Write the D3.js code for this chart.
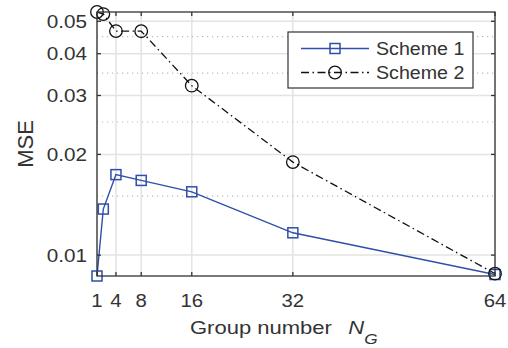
<!DOCTYPE html>
<html><head><meta charset="utf-8">
<script src="https://cdn.jsdelivr.net/npm/d3@7"></script>
<style>body{margin:0;background:#fff}svg{display:block}</style>
</head><body>
<svg id="c" width="508" height="348"></svg>
<script>
const groups = [1, 2, 4, 8, 16, 32, 64];
const scheme1 = [0.00866, 0.01373, 0.0174, 0.01672, 0.01546, 0.01166, 0.00875];
const scheme2 = [0.0533, 0.05254, 0.04674, 0.0467, 0.0321, 0.01897, 0.0088];
const xTicks = [1, 4, 8, 16, 32, 64];
const yTicks = [0.01, 0.02, 0.03, 0.04, 0.05];
const yTickLabels = ["0.01", "0.02", "0.03", "0.04", "0.05"];
const yMinor = [0.015, 0.025, 0.035, 0.045];
const seriesNames = ["Scheme 1", "Scheme 2"];

const L = 97, R = 495, T = 12, B = 276;
const svg = d3.select("#c");
const x = d3.scaleLinear().domain([1, 64]).range([L, R]);
const y = d3.scaleLog().domain([0.00866, 0.0533]).range([B, T]);
const txt = "#333";
const blue = "#2f4fa8";
const font = "Liberation Sans, Arial, sans-serif";

function label(g, px, py, s, size, anchor, sx) {
  return g.append("text").attr("transform", `translate(${px},${py}) scale(${sx},1)`)
    .attr("text-anchor", anchor).attr("font-family", font).attr("font-size", size)
    .attr("fill", txt).text(s);
}

// grid
const grid = svg.append("g");
grid.selectAll("line.v").data(xTicks).join("line")
  .attr("x1", d => x(d)).attr("x2", d => x(d)).attr("y1", T).attr("y2", B)
  .attr("stroke", "#e3e3e3").attr("stroke-width", 1.5);
grid.selectAll("line.h").data(yTicks).join("line")
  .attr("y1", d => y(d)).attr("y2", d => y(d)).attr("x1", L).attr("x2", R)
  .attr("stroke", "#e3e3e3").attr("stroke-width", 1.5);
grid.selectAll("line.m").data(yMinor).join("line")
  .attr("y1", d => y(d)).attr("y2", d => y(d)).attr("x1", L).attr("x2", R)
  .attr("stroke", "#bdbdbd").attr("stroke-width", 1.2).attr("stroke-dasharray", "1.2,3.8");

// clip
svg.append("clipPath").attr("id", "clip").append("rect")
  .attr("x", L).attr("y", T).attr("width", R - L).attr("height", B - T);

const line = d3.line().x((d, i) => x(groups[i])).y(d => y(d));
svg.append("path").datum(scheme2).attr("d", line).attr("clip-path", "url(#clip)")
  .attr("fill", "none").attr("stroke", "#111").attr("stroke-width", 1.3)
  .attr("stroke-dasharray", "8,3.5,1.5,3.5");
svg.append("path").datum(scheme1).attr("d", line).attr("clip-path", "url(#clip)")
  .attr("fill", "none").attr("stroke", blue).attr("stroke-width", 1.4);

function square(g, cx, cy) {
  g.append("rect").attr("x", cx - 5).attr("y", cy - 5).attr("width", 10).attr("height", 10)
    .attr("fill", "none").attr("stroke", blue).attr("stroke-width", 1.5);
}
function circle(g, cx, cy) {
  g.append("circle").attr("cx", cx).attr("cy", cy).attr("r", 6.3)
    .attr("fill", "none").attr("stroke", "#111").attr("stroke-width", 1.3);
}
const mk = svg.append("g");
scheme1.forEach((v, i) => square(mk, x(groups[i]), y(v)));
scheme2.forEach((v, i) => circle(mk, x(groups[i]), y(v)));

// axes box
const ax = svg.append("g").attr("stroke", "#333").attr("stroke-width", 1.3);
ax.append("rect").attr("x", L).attr("y", T).attr("width", R - L).attr("height", B - T).attr("fill", "none");
xTicks.forEach(d => {
  ax.append("line").attr("x1", x(d)).attr("x2", x(d)).attr("y1", B).attr("y2", B - 4);
  ax.append("line").attr("x1", x(d)).attr("x2", x(d)).attr("y1", T).attr("y2", T + 4);
});
yTicks.forEach(d => {
  ax.append("line").attr("x1", L).attr("x2", L + 4).attr("y1", y(d)).attr("y2", y(d));
  ax.append("line").attr("x1", R).attr("x2", R - 4).attr("y1", y(d)).attr("y2", y(d));
});

// tick labels
const tl = svg.append("g");
xTicks.forEach(d => label(tl, x(d), 306.5, String(d), 18, "middle", 1.13));
yTicks.forEach((d, i) => label(tl, 87, y(d) + 6.5, yTickLabels[i], 18, "end", 1.15));

// axis titles
svg.append("text").attr("transform", "translate(32.5,144) rotate(-90) scale(1.1,1.15)")
  .attr("text-anchor", "middle").attr("font-family", font).attr("font-size", 20)
  .attr("fill", txt).text("MSE");
const xt = svg.append("text").attr("transform", "translate(190,333.5) scale(1.19,1)")
  .attr("font-family", font).attr("font-size", 18.5).attr("fill", txt);
xt.append("tspan").text("Group number ");
xt.append("tspan").attr("x", 133).attr("font-style", "italic").text("N");
xt.append("tspan").attr("font-style", "italic").attr("font-size", 14.5).attr("dy", 10).text("G");

// legend
const lg = svg.append("g");
lg.append("rect").attr("x", 288).attr("y", 32).attr("width", 185).attr("height", 56)
  .attr("fill", "#fff").attr("stroke", "#333").attr("stroke-width", 1.2);
const rows = [48.5, 72.5];
lg.append("line").attr("x1", 301).attr("x2", 369).attr("y1", rows[0]).attr("y2", rows[0])
  .attr("stroke", blue).attr("stroke-width", 1.4);
square(lg, 335, rows[0]);
lg.append("line").attr("x1", 301).attr("x2", 369).attr("y1", rows[1]).attr("y2", rows[1])
  .attr("stroke", "#111").attr("stroke-width", 1.3).attr("stroke-dasharray", "8,3.5,1.5,3.5");
circle(lg, 335, rows[1]);
seriesNames.forEach((s, i) => label(lg, 376, rows[i] + 6.5, s, 17.7, "start", 1.11));
</script>
</body></html>
